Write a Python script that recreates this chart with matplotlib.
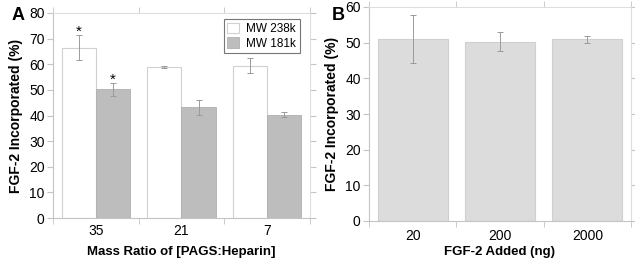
import matplotlib
matplotlib.use("Agg")
import matplotlib.pyplot as plt
import numpy as np

plt.rcParams['font.family'] = ['Liberation Sans', 'DejaVu Sans']

# panel A
ratios = ["35", "21", "7"]
mw238 = [66.5, 58.8, 59.5]
mw238_err = [5.0, 0.4, 3.0]
mw181 = [50.3, 43.2, 40.3]
mw181_err = [2.5, 3.0, 1.0]
star_a = [True, False, False]
star_b = [True, False, False]

# panel B
added = ["20", "200", "2000"]
incorporated = [51.0, 50.3, 51.0]
incorporated_err = [6.8, 2.7, 1.0]

SPINE = "#c4c4c4"
FRAME = "#dedede"
ERR = "#9a9a9a"


def style_axes(ax, ymax, ystep, xpad):
    ax.set_ylim(0, ymax)
    ax.set_xlim(-0.5, 2.5)
    ax.set_yticks(np.arange(0, ymax + 1, ystep))
    ax.set_xticks([0, 1, 2])
    ax.set_xticks([-0.5, 0.5, 1.5, 2.5], minor=True)
    ax.tick_params(axis="x", which="major", length=0, labelsize=10, pad=xpad)
    ax.tick_params(axis="x", which="minor", length=4, color=SPINE, direction="out",
                   top=True)
    ax.tick_params(axis="y", length=4, color=SPINE, labelsize=10, right=True,
                   pad=2)
    ax.spines["left"].set_color(SPINE)
    ax.spines["bottom"].set_color(SPINE)
    ax.spines["top"].set_color(FRAME)
    ax.spines["right"].set_color(FRAME)
    for s in ax.spines.values():
        s.set_linewidth(0.8)


fig = plt.figure(figsize=(6.35, 2.62), dpi=100)

# ---- A ----
axA = fig.add_axes([53 / 635, 1 - 218 / 262, 257 / 635, 205 / 262])
x = np.arange(len(ratios))
w = 0.4
axA.bar(x - w / 2, mw238, w, color="white", edgecolor="#d0d0d0", linewidth=0.8,
        label="MW 238k", zorder=2)
axA.bar(x + w / 2, mw181, w, color="#bdbdbd", edgecolor="#b0b0b0", linewidth=0.6,
        label="MW 181k", zorder=2)
axA.errorbar(x - w / 2, mw238, yerr=mw238_err, fmt="none", ecolor=ERR,
             elinewidth=0.7, capsize=2, capthick=0.7, zorder=3)
axA.errorbar(x + w / 2, mw181, yerr=mw181_err, fmt="none", ecolor=ERR,
             elinewidth=0.7, capsize=2, capthick=0.7, zorder=3)
for i in range(len(ratios)):
    if star_a[i]:
        axA.text(x[i] - w / 2, mw238[i] + mw238_err[i] - 1.5, "*", ha="center",
                 va="bottom", fontsize=11)
    if star_b[i]:
        axA.text(x[i] + w / 2, mw181[i] + mw181_err[i] - 1.5, "*", ha="center",
                 va="bottom", fontsize=11)
style_axes(axA, 80, 10, 4)
axA.set_xticklabels(ratios)
axA.set_ylabel("FGF-2 Incorporated (%)", fontsize=10, fontweight="bold", labelpad=4)
axA.set_xlabel("Mass Ratio of [PAGS:Heparin]", fontsize=9.5, fontweight="bold",
               va="center")
axA.xaxis.set_label_coords(0.5, -(252 - 218) / 205)
leg = axA.legend(loc="upper right", bbox_to_anchor=(0.96, 0.97), fontsize=8.5,
                 frameon=True, fancybox=False, edgecolor="#555555",
                 handlelength=1.0, handleheight=1.0, handletextpad=0.6,
                 borderpad=0.3, labelspacing=0.2, borderaxespad=0)
leg.get_frame().set_linewidth(0.8)
fig.text(12 / 635, 1 - 15 / 262, "A", fontsize=13, fontweight="bold",
         ha="left", va="center")

# ---- B ----
axB = fig.add_axes([369 / 635, 1 - 221 / 262, 262 / 635, 214 / 262])
xb = np.arange(len(added))
axB.bar(xb, incorporated, 0.8, color="#dcdcdc", edgecolor="#cfcfcf",
        linewidth=0.8, zorder=2)
axB.errorbar(xb, incorporated, yerr=incorporated_err, fmt="none", ecolor=ERR,
             elinewidth=0.7, capsize=2, capthick=0.7, zorder=3)
style_axes(axB, 60, 10, 5.5)
axB.set_xticklabels(added)
axB.set_ylabel("FGF-2 Incorporated (%)", fontsize=10, fontweight="bold", labelpad=4)
axB.set_xlabel("FGF-2 Added (ng)", fontsize=9.5, fontweight="bold", va="center")
axB.xaxis.set_label_coords(0.5, -(252 - 221) / 214)
fig.text(332 / 635, 1 - 15 / 262, "B", fontsize=13, fontweight="bold",
         ha="left", va="center")

fig.savefig("out.png", dpi=100)
